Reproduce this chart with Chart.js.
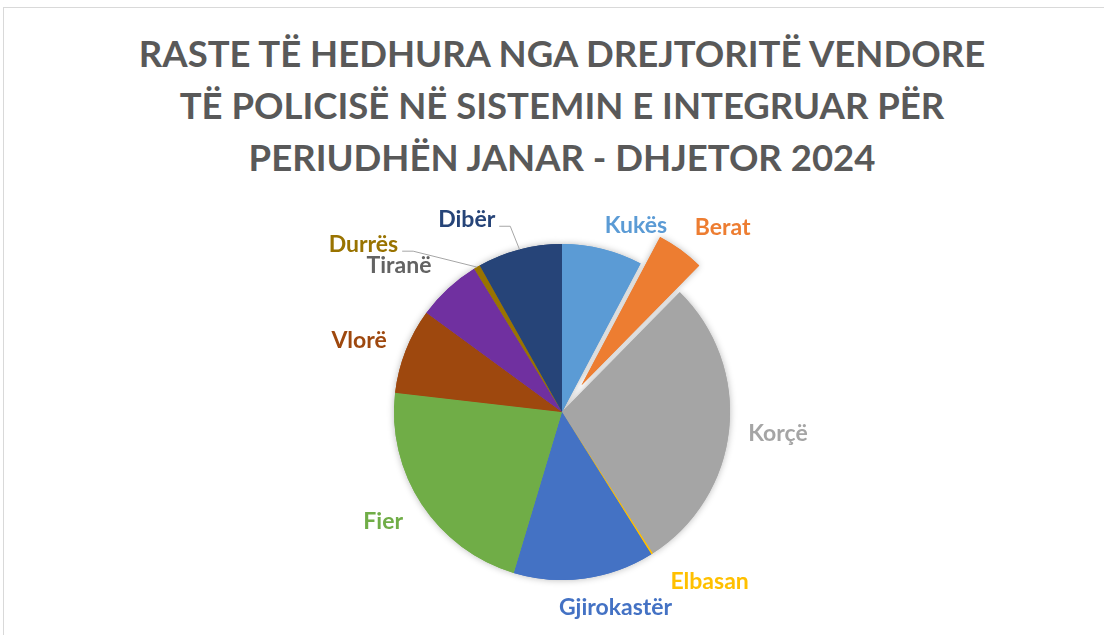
<!DOCTYPE html>
<html>
<head>
<meta charset="utf-8">
<script src="https://cdn.jsdelivr.net/npm/chart.js@4.4.1/dist/chart.umd.min.js"></script>
<style>
  html, body { margin: 0; padding: 0; background: #fff; }
  body { width: 1104px; height: 635px; overflow: hidden; position: relative; }
  .frame { position: absolute; left: 3px; top: 7px; width: 1120px; height: 660px;
           border-top: 1px solid #d9d9d9; border-left: 1px solid #d9d9d9; }
  .title { position: absolute; left: 0; top: 27px; width: 1124px; text-align: center;
           font-family: Lato, sans-serif; font-weight: bold; font-size: 36.5px; line-height: 52px; color: #595959; }
  #chart { position: absolute; left: 0; top: 0; }
</style>
</head>
<body>
<div class="frame"></div>
<div class="title">RASTE TË HEDHURA NGA DREJTORITË VENDORE<br>TË POLICISË NË SISTEMIN E INTEGRUAR PËR<br>PERIUDHËN JANAR - DHJETOR 2024</div>
<canvas id="chart" width="1104" height="635"></canvas>
<script>
// values (slice sizes)
const regions = ['Kukës', 'Berat', 'Korçë', 'Elbasan', 'Gjirokastër', 'Fier', 'Vlorë', 'Tiranë', 'Durrës', 'Dibër'];
const cases = [27.9, 16.6, 102.8, 0.6, 48.8, 79.9, 29.6, 22.3, 2.2, 29.3];
const sliceColors = ['#5B9BD5', '#ED7D31', '#A5A5A5', '#FFC000', '#4472C4', '#70AD47', '#9E480E', '#7030A0', '#997300', '#264478'];
const labelColors = ['#5B9BD5', '#ED7D31', '#A5A5A5', '#FFC000', '#4472C4', '#70AD47', '#9E480E', '#636363', '#997300', '#264478'];
const explode = [0, 33, 0, 0, 0, 0, 0, 0, 0, 0];

// label spots: [angle from top in degrees, distance from centre]
const labelSpots = [[21.6, 201], [41, 245], [95.6, 217], [139, 225], [164.7, 203],
                    [238.4, 210], [289.3, 215], [311.9, 219], [310.2, 260], [333.7, 215]];
const withLeader = [false, false, false, false, false, false, false, false, true, true];

const explodePlugin = {
  id: 'explode',
  beforeDatasetsDraw(chart) {
    const arcs = chart.getDatasetMeta(0).data;
    arcs.forEach((arc, i) => {
      if (explode[i] && !arc._wrapped) {
        const orig = arc.draw;
        arc.draw = function (ctx) {
          const mid = (this.startAngle + this.endAngle) / 2;
          ctx.save();
          ctx.translate(Math.cos(mid) * explode[i], Math.sin(mid) * explode[i]);
          orig.call(this, ctx);
          ctx.restore();
        };
        arc._wrapped = true;
      }
    });
    // soft shadow under the pie
    const ctx = chart.ctx;
    ctx.save();
    ctx.shadowColor = 'rgba(0,0,0,0.28)';
    ctx.shadowBlur = 7;
    arcs.forEach(arc => arc.draw(ctx));
    ctx.restore();
  }
};

const labelPlugin = {
  id: 'sliceLabels',
  afterDatasetsDraw(chart) {
    const ctx = chart.ctx;
    const arcs = chart.getDatasetMeta(0).data;
    const cx = arcs[0].x, cy = arcs[0].y, r = arcs[0].outerRadius;
    ctx.save();
    ctx.font = 'bold 23px Lato';
    ctx.textAlign = 'center';
    ctx.textBaseline = 'middle';
    regions.forEach((name, i) => {
      const a = labelSpots[i][0] * Math.PI / 180;
      const d = labelSpots[i][1];
      const x = cx + Math.sin(a) * d;
      const y = cy - Math.cos(a) * d;
      if (withLeader[i]) {
        const w = ctx.measureText(name).width;
        const mid = (arcs[i].startAngle + arcs[i].endAngle) / 2;
        ctx.strokeStyle = '#a6a6a6';
        ctx.lineWidth = 1;
        ctx.beginPath();
        ctx.moveTo(x + w / 2 + 4, y + 7);
        ctx.lineTo(x + w / 2 + 15, y + 7);
        ctx.lineTo(cx + Math.cos(mid) * r, cy + Math.sin(mid) * r);
        ctx.stroke();
      }
      ctx.fillStyle = labelColors[i];
      ctx.fillText(name, x, y);
    });
    ctx.restore();
  }
};

new Chart(document.getElementById('chart'), {
  type: 'pie',
  data: {
    labels: regions,
    datasets: [{
      data: cases,
      backgroundColor: sliceColors,
      borderWidth: 0
    }]
  },
  options: {
    responsive: false,
    animation: false,
    radius: 168,
    layout: { padding: { top: 200, bottom: 11, left: 20, right: 0 } },
    plugins: {
      legend: { display: false },
      tooltip: { enabled: false }
    }
  },
  plugins: [explodePlugin, labelPlugin]
});
</script>
</body>
</html>
